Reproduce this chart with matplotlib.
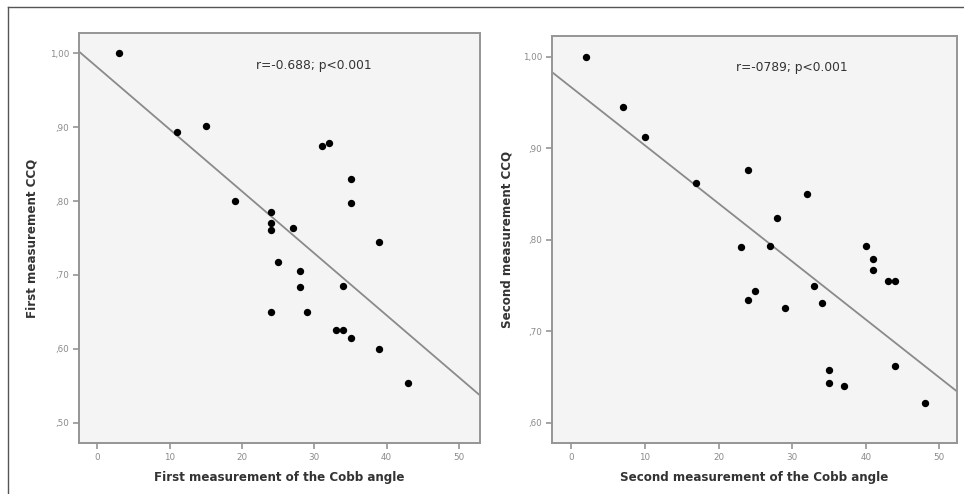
import numpy as np
import matplotlib
matplotlib.use("Agg")
import matplotlib.pyplot as plt
from matplotlib.ticker import FuncFormatter
from matplotlib.lines import Line2D

# ---- data ----
cobb1 = [3, 11, 15, 19, 24, 24, 24, 27, 25, 28, 28, 24, 29, 31, 32, 35, 35, 39, 34, 33, 34, 35, 39, 43]
ccq1 = [1.00, .894, .902, .800, .785, .770, .761, .764, .717, .706, .684, .650, .650, .875, .879,
        .830, .797, .745, .685, .625, .625, .615, .600, .554]

cobb2 = [2, 7, 10, 17, 24, 32, 28, 23, 27, 40, 41, 41, 43, 44, 33, 34, 25, 24, 29, 35, 35, 37, 44, 48]
ccq2 = [1.00, .945, .912, .862, .876, .850, .824, .792, .793, .793, .779, .767, .755, .755, .750,
        .731, .744, .734, .725, .658, .644, .640, .662, .622]

xticks = [0, 10, 20, 30, 40, 50]
yticks1 = [0.50, 0.60, 0.70, 0.80, 0.90, 1.00]
yticks2 = [0.60, 0.70, 0.80, 0.90, 1.00]

xlabel1 = "First measurement of the Cobb angle"
ylabel1 = "First measurement CCQ"
xlabel2 = "Second measurement of the Cobb angle"
ylabel2 = "Second measurement CCQ"
note1 = "r=-0.688; p<0.001"
note2 = "r=-0789; p<0.001"

W, H = 964, 494
fig = plt.figure(figsize=(W / 100, H / 100), dpi=100)
fig.patch.set_facecolor("white")

frame_c = "#959595"
tick_c = "#8a8a8a"
text_c = "#333333"


def fmt(v, pos):
    s = f"{v:.2f}".replace(".", ",")
    if s.startswith("0"):
        s = s[1:]
    return s


def make_panel(rect, x, y, yticks, xlim, ylim, xlabel, ylabel, note, note_xy, ylpad):
    ax = fig.add_axes(rect)
    ax.set_facecolor("#f4f4f4")
    ax.set_xlim(*xlim)
    ax.set_ylim(*ylim)
    xa = np.array(x, dtype=float)
    ya = np.array(y, dtype=float)
    b, a = np.polyfit(xa, ya, 1)
    xs = np.array(xlim)
    ax.plot(xs, a + b * xs, color="#8a8a8a", lw=1.3, zorder=2, clip_on=True)
    ax.scatter(xa, ya, s=28, color="black", zorder=3, linewidths=0)
    ax.set_xticks(xticks)
    ax.set_yticks(yticks)
    ax.yaxis.set_major_formatter(FuncFormatter(fmt))
    ax.tick_params(axis="both", direction="out", length=4, width=1.2, color=frame_c,
                   labelcolor=tick_c, labelsize=6.3, pad=3)
    for sp in ax.spines.values():
        sp.set_color(frame_c)
        sp.set_linewidth(1.4)
    ax.set_xlabel(xlabel, fontsize=8.6, fontweight="bold", color=text_c, labelpad=7)
    ax.set_ylabel(ylabel, fontsize=8.6, fontweight="bold", color=text_c, labelpad=ylpad)
    ax.text(note_xy[0], note_xy[1], note, fontsize=8.8, color=text_c, va="center", ha="left")
    return ax


ax1 = make_panel([79 / W, 1 - 443 / H, 401 / W, 410 / H], cobb1, ccq1, yticks1,
                 (-2.53, 52.9), (0.4725, 1.0275), xlabel1, ylabel1, note1, (22.0, 0.984), 8)
ax2 = make_panel([552 / W, 1 - 443 / H, 405 / W, 407 / H], cobb2, ccq2, yticks2,
                 (-2.62, 52.4), (0.578, 1.0226), xlabel2, ylabel2, note2, (22.4, 0.988), 7)

# page frame (top and left edges)
fig.add_artist(Line2D([8 / W, 963 / W], [1 - 7 / H, 1 - 7 / H], color="#555555", lw=1.0,
                      transform=fig.transFigure))
fig.add_artist(Line2D([8 / W, 8 / W], [1 - 7 / H, 0], color="#555555", lw=1.0,
                      transform=fig.transFigure))

fig.savefig("out.png", dpi=100, facecolor="white")
